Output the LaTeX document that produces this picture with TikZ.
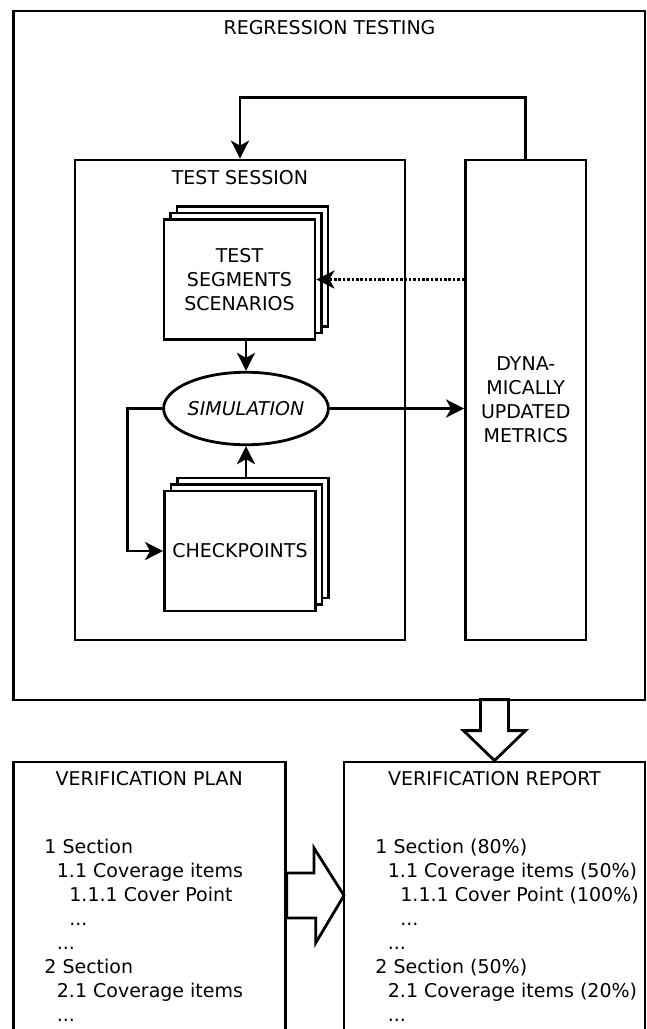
\documentclass[tikz,border=0pt]{standalone}
\usepackage{fontspec}
\setmainfont{DejaVu Sans}
\usepackage{tikz}
\usetikzlibrary{positioning}
\usetikzlibrary{calc,shapes.geometric}
\usetikzlibrary{arrows.meta}
\tikzset{>={Stealth[length=18pt,width=18pt,inset=5pt]}}
\tikzset{
  box/.style={draw, line width=2.8pt, fill=white, align=center, inner sep=0pt},
  sheet/.style={box, minimum width=151pt, minimum height=120pt},
  title/.style={inner sep=0pt},
  listtext/.style={align=left, anchor=north west, inner sep=0pt},
  feedback/.style={dash pattern=on 2.6pt off 1.8pt},
}
\newcommand{\indone}{\hspace*{12.5pt}}
\newcommand{\indtwo}{\hspace*{25pt}}

\begin{document}
\begin{tikzpicture}[x=1pt,y=-1pt,line width=2.8pt,
  font=\fontsize{19pt}{24pt}\selectfont]

\useasboundingbox (0,0) rectangle (647,1029);
\clip (0,0) rectangle (647,1029);

% Regression testing frame
\node[box, minimum width=631.5pt, minimum height=689pt] (regr) at (329.25,355.5) {};
\node[title] (regrtitle) at (329.5,27.5) {REGRESSION TESTING};

% Test session and metrics
\node[box, minimum width=330pt, minimum height=480pt] (session) at (240,400) {};
\node[title] (sessiontitle) at (240,177.5) {TEST SESSION};
\node[box, minimum width=120.5pt, minimum height=480pt] (metrics) at (525.75,400)
  {DYNA-\\MICALLY\\UPDATED\\METRICS};

% Stack of test segments
\node[sheet] (segback) at (252.5,266.5) {};
\node[sheet] (segmid) at (246,273) {};
\node[sheet] (seg) at (239.5,279.5) {TEST\\SEGMENTS\\SCENARIOS};

% Simulation
\node[box, ellipse, minimum width=152.5pt, minimum height=72.5pt,
  execute at begin node=\itshape] (sim) at (246,408.5) {SIMULATION};

% Stack of checkpoints
\node[sheet] (chkback) at (253,538) {};
\node[sheet] (chkmid) at (246.5,544.5) {};
\node[sheet] (chk) at (240,551) {CHECKPOINTS};

% Arrows inside the session
\draw[->] (seg.south -| sim) -- (sim.north);
\draw[->] (chkback.north -| sim) -- (sim.south);
\draw[->] (sim.west) -- ++(-35,0) |- (chk.west);
\draw[->] (sim.east) -- (sim.east -| metrics.west);
\draw[->, feedback] (metrics.west |- seg.east) -- (seg.east);
\draw[->] (metrics.north) -- ++(0,-61) -| (session.north);

% Plan and report
\node[box, minimum width=272pt, minimum height=288pt] (plan) at (149.25,906) {};
\node[title] (plantitle) at (149.25,779) {VERIFICATION PLAN};
\node[listtext] (plantext) at (43,837.6) {1 Section\\
\indone1.1 Coverage items\\
\indtwo1.1.1 Cover Point\\
\indtwo...\\
\indone...\\
2 Section\\
\indone2.1 Coverage items\\
\indone...};

\node[box, minimum width=301pt, minimum height=288pt] (report) at (494.5,906) {};
\node[title] (reporttitle) at (494.5,779) {VERIFICATION REPORT};
\node[listtext] (reporttext) at (374,837.6) {1 Section (80\%)\\
\indone1.1 Coverage items (50\%)\\
\indtwo1.1.1 Cover Point (100\%)\\
\indtwo...\\
\indone...\\
2 Section (50\%)\\
\indone2.1 Coverage items (20\%)\\
\indone...};

% Hollow arrows
\draw (report.north) -- ++(-31,-30) -- ++(17,0) -- ++(0,-31) -- ++(28,0)
  -- ++(0,31) -- ++(17,0) -- cycle;
\coordinate (handover) at (344,895.5);
\draw (handover) -- ++(-30,-47.5) -- ++(0,25) -- (plan.east |- 0,873)
  -- (plan.east |- 0,918) -- ++(29,0) -- ++(0,25) -- cycle;

\end{tikzpicture}
\end{document}
